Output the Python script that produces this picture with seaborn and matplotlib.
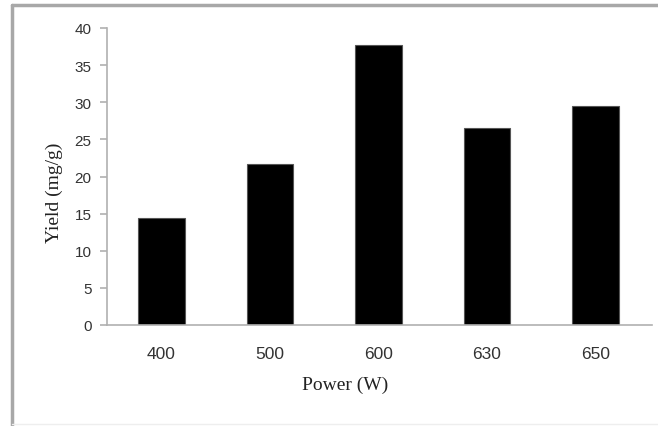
import pandas as pd
import seaborn as sns
import matplotlib.pyplot as plt
from matplotlib.lines import Line2D

power = ['400', '500', '600', '630', '650']
yield_mg_g = [14.4, 21.7, 37.7, 26.5, 29.5]

df = pd.DataFrame({'Power (W)': power, 'Yield (mg/g)': yield_mg_g})

sns.set_theme(style="white")
plt.rcParams['font.family'] = ['Liberation Sans', 'DejaVu Sans']

fig = plt.figure(figsize=(6.58, 4.27), dpi=100)
ax = fig.add_axes([107 / 658, 1 - 326 / 427, 545 / 658, 297 / 427])

sns.barplot(data=df, x='Power (W)', y='Yield (mg/g)', color='black',
            width=0.43, saturation=1, edgecolor='#555555', linewidth=0.8, ax=ax)

ax.set_ylim(0, 40)
ax.set_xlim(-0.5, 4.52)
ax.set_yticks(range(0, 41, 5))

grey = '#b0b0b0'
for side in ['top', 'right']:
    ax.spines[side].set_visible(False)
for side in ['left', 'bottom']:
    ax.spines[side].set_color(grey)
    ax.spines[side].set_linewidth(1.2)

ax.tick_params(axis='y', which='both', left=True, length=5, width=1.2,
               color=grey, labelsize=11, labelcolor='#333333', pad=6)
ax.tick_params(axis='x', bottom=False, labelsize=12.5, labelcolor='#333333', pad=9)

ax.set_xlabel('Power (W)', family=['Liberation Serif'], fontsize=14, color='#222222')
ax.set_ylabel('Yield (mg/g)', family=['Liberation Serif'], fontsize=14, color='#222222')
ax.xaxis.set_label_coords(0.437, -0.172)
ax.yaxis.set_label_coords(-0.08, 0.448)

# outer frame of the original picture
fig.add_artist(Line2D([12 / 658, 12 / 658], [0, 1 - 6 / 427], transform=fig.transFigure,
                      color='#a8a8a8', linewidth=2.5))
fig.add_artist(Line2D([12 / 658, 1], [1 - 6 / 427, 1 - 6 / 427], transform=fig.transFigure,
                      color='#a8a8a8', linewidth=2.5))
fig.add_artist(Line2D([12 / 658, 1], [1 - 425 / 427, 1 - 425 / 427], transform=fig.transFigure,
                      color='#eeeeee', linewidth=1))

fig.savefig('out.png', dpi=100)
